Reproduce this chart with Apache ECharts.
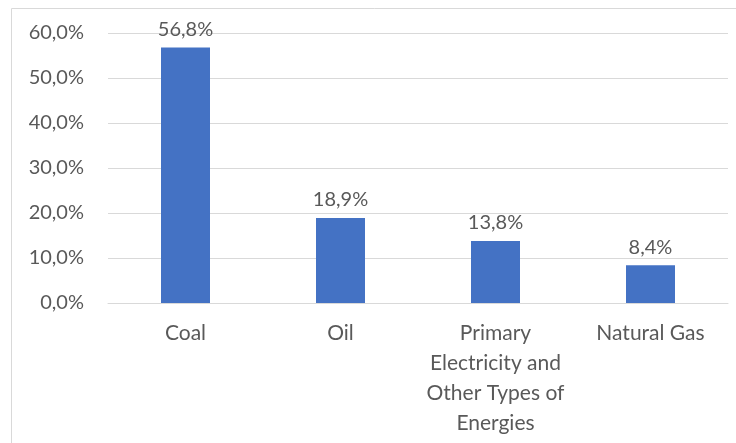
<!DOCTYPE html>
<html>
<head>
<meta charset="utf-8">
<script src="https://cdn.jsdelivr.net/npm/echarts@6/dist/echarts.min.js"></script>
<style>
  html, body { margin: 0; padding: 0; background: #fff; }
  #chart { width: 736px; height: 443px; }
</style>
</head>
<body>
<div id="chart"></div>
<script>
// energy mix shares (%)
var categories = ['Coal', 'Oil', 'Primary\nElectricity and\nOther Types of\nEnergies', 'Natural Gas'];
var shares = [56.8, 18.9, 13.8, 8.4];

var fmt = function (v) {
    return v.toFixed(1).replace('.', ',') + '%';
};

var chart = echarts.init(document.getElementById('chart'));
chart.setOption({
    animation: false,
    textStyle: { fontFamily: 'Lato', color: '#595959' },
    graphic: [{
        type: 'rect',
        shape: { x: 11.5, y: 8.5, width: 760, height: 460 },
        style: { fill: 'none', stroke: '#d9d9d9', lineWidth: 1 },
        silent: true
    }],
    grid: { left: 108, right: 8, top: 33, bottom: 140 },
    xAxis: {
        type: 'category',
        data: categories,
        axisLine: { show: true, lineStyle: { color: '#d9d9d9', width: 1 } },
        axisTick: { show: false },
        axisLabel: {
            color: '#595959',
            fontSize: 21,
            lineHeight: 30,
            margin: 15,
            interval: 0
        }
    },
    yAxis: {
        type: 'value',
        min: 0,
        max: 60,
        interval: 10,
        axisLine: { show: false },
        axisTick: { show: false },
        splitLine: { lineStyle: { color: '#d9d9d9', width: 1 } },
        axisLabel: {
            color: '#595959',
            fontSize: 20,
            margin: 24,
            formatter: function (v) { return fmt(v); }
        }
    },
    series: [{
        type: 'bar',
        data: shares,
        barWidth: 49,
        itemStyle: { color: '#4472c4' },
        label: {
            show: true,
            position: 'top',
            distance: 8,
            color: '#595959',
            fontSize: 20,
            formatter: function (p) { return fmt(p.value); }
        }
    }]
});
</script>
</body>
</html>
